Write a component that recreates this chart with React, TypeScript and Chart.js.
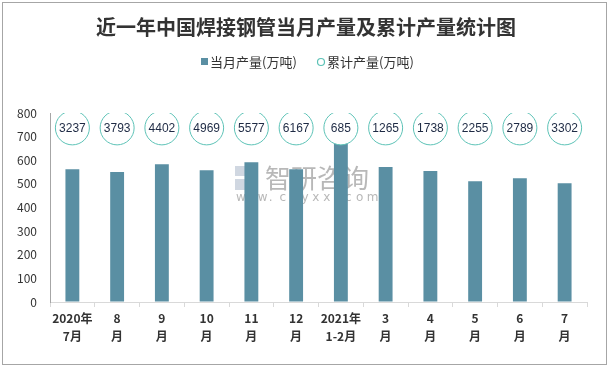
import React, { useEffect, useRef } from "react";
import { Chart, registerables } from "chart.js";

Chart.register(...registerables);

const TITLE = "近一年中国焊接钢管当月产量及累计产量统计图";
const SERIES_MONTHLY = "当月产量(万吨)";
const SERIES_CUMULATIVE = "累计产量(万吨)";
const categories: string[][] = [
  ["2020年", "7月"], ["8", "月"], ["9", "月"], ["10", "月"], ["11", "月"], ["12", "月"],
  ["2021年", "1-2月"], ["3", "月"], ["4", "月"], ["5", "月"], ["6", "月"], ["7", "月"],
];
const monthly = [562, 550, 583, 558, 592, 562, 685, 571, 554, 511, 524, 503];
const cumulative = [3237, 3793, 4402, 4969, 5577, 6167, 685, 1265, 1738, 2255, 2789, 3302];
const LABEL_LEVEL = 737;
const Y_MAX = 800;
const Y_STEP = 100;

const BAR_COLOR = "#5a8fa3";
const CIRCLE_COLOR = "#5cc2b6";
const TEXT_COLOR = "#333333";
const FONT = "'Microsoft YaHei', 'Noto Sans CJK SC', 'Noto Sans', sans-serif";

const overlayPlugin = {
  id: "overlay",
  beforeDatasetsDraw(chart: any) {
    const ctx = chart.ctx;
    ctx.save();
    // watermark
    ctx.fillStyle = "rgba(120,140,170,0.35)";
    ctx.fillRect(235, 166, 10, 10);
    ctx.fillRect(235, 179, 10, 11);
    ctx.fillStyle = "rgba(90,150,200,0.45)";
    ctx.fillRect(247, 172, 11, 18);
    ctx.fillStyle = "rgba(160,160,160,0.75)";
    ctx.font = "26px 'Noto Sans CJK SC', sans-serif";
    ctx.textBaseline = "middle";
    ctx.textAlign = "left";
    ctx.fillText("智研咨询", 265, 178);
    ctx.font = "12px 'DejaVu Sans', sans-serif";
    const wm = "www.chyxx.com";
    for (let i = 0; i < wm.length; i++) {
      ctx.fillText(wm[i], 236 + i * 10.9, 198);
    }
    ctx.restore();
  },
  afterDatasetsDraw(chart: any) {
    const ctx = chart.ctx;
    const meta = chart.getDatasetMeta(1);
    ctx.save();
    ctx.fillStyle = "#1e2a44";
    ctx.font = "12px 'Liberation Sans', Arial, sans-serif";
    ctx.textAlign = "center";
    ctx.textBaseline = "middle";
    meta.data.forEach((pt: any, i: number) => {
      ctx.fillText(String(cumulative[i]), pt.x, pt.y + 1);
    });
    ctx.restore();
  },
  afterDraw(chart: any) {
    const ctx = chart.ctx;
    ctx.save();
    // title
    ctx.fillStyle = TEXT_COLOR;
    ctx.font = "bold 20px 'Noto Sans CJK SC', serif";
    ctx.textAlign = "center";
    ctx.textBaseline = "middle";
    ctx.fillText(TITLE, 306, 27);
    // legend
    ctx.font = "13px " + FONT;
    ctx.textAlign = "left";
    ctx.fillStyle = BAR_COLOR;
    ctx.fillRect(201, 58, 7, 7);
    ctx.fillStyle = TEXT_COLOR;
    ctx.fillText(SERIES_MONTHLY, 210, 62);
    ctx.beginPath();
    ctx.arc(321, 62, 3.5, 0, Math.PI * 2);
    ctx.strokeStyle = CIRCLE_COLOR;
    ctx.lineWidth = 1.2;
    ctx.stroke();
    ctx.fillText(SERIES_CUMULATIVE, 327, 62);
    ctx.restore();
  },
};

export default function App() {
  const ref = useRef<HTMLCanvasElement>(null);
  useEffect(() => {
    if (!ref.current) return;
    const chart = new Chart(ref.current, {
      type: "bar",
      data: {
        labels: categories,
        datasets: [
          {
            type: "bar",
            label: SERIES_MONTHLY,
            data: monthly,
            backgroundColor: BAR_COLOR,
            barPercentage: 0.31,
            categoryPercentage: 1,
            order: 2,
          },
          {
            type: "line",
            label: SERIES_CUMULATIVE,
            data: cumulative.map(() => LABEL_LEVEL),
            showLine: false,
            pointRadius: 17,
            pointHoverRadius: 17,
            pointBackgroundColor: "#ffffff",
            pointBorderColor: CIRCLE_COLOR,
            pointBorderWidth: 1,
            order: 1,
          } as any,
        ],
      },
      options: {
        animation: false,
        responsive: false,
        maintainAspectRatio: false,
        layout: { padding: { left: 0, right: 23, top: 113, bottom: 0 } },
        plugins: {
          legend: { display: false },
          title: { display: false },
          tooltip: { enabled: false },
        },
        scales: {
          x: {
            offset: true,
            grid: {
              display: true,
              offset: true,
              drawOnChartArea: false,
              drawTicks: true,
              tickLength: 5,
              color: "#d9d9d9",
            },
            border: { display: true, color: "#d9d9d9", width: 1 },
            ticks: {
              color: TEXT_COLOR,
              font: { size: 12, weight: "bold", family: FONT, lineHeight: 1.5 },
              padding: 2,
              maxRotation: 0,
              autoSkip: false,
            },
            afterFit(scale: any) {
              scale.height = 67;
            },
          },
          y: {
            min: 0,
            max: Y_MAX,
            grid: { display: true, drawOnChartArea: false, drawTicks: false, color: "rgba(0,0,0,0)" },
            border: { display: true, color: "#a6a6a6", width: 1 },
            ticks: {
              stepSize: Y_STEP,
              color: TEXT_COLOR,
              font: { size: 12, family: FONT },
              padding: 13,
            },
            afterFit(scale: any) {
              scale.width = 50;
            },
          },
        },
      },
      plugins: [overlayPlugin],
    });
    return () => chart.destroy();
  }, []);
  return (
    <div style={{ position: "fixed", left: 0, top: 0, width: 610, height: 369, background: "#fff" }}>
      <div
        style={{
          position: "absolute",
          left: 2,
          top: 2,
          width: 603,
          height: 361,
          border: "1px solid #a6a6a6",
          pointerEvents: "none",
        }}
      />
      <canvas ref={ref} width={610} height={369} style={{ position: "absolute", left: 0, top: 0 }} />
    </div>
  );
}
